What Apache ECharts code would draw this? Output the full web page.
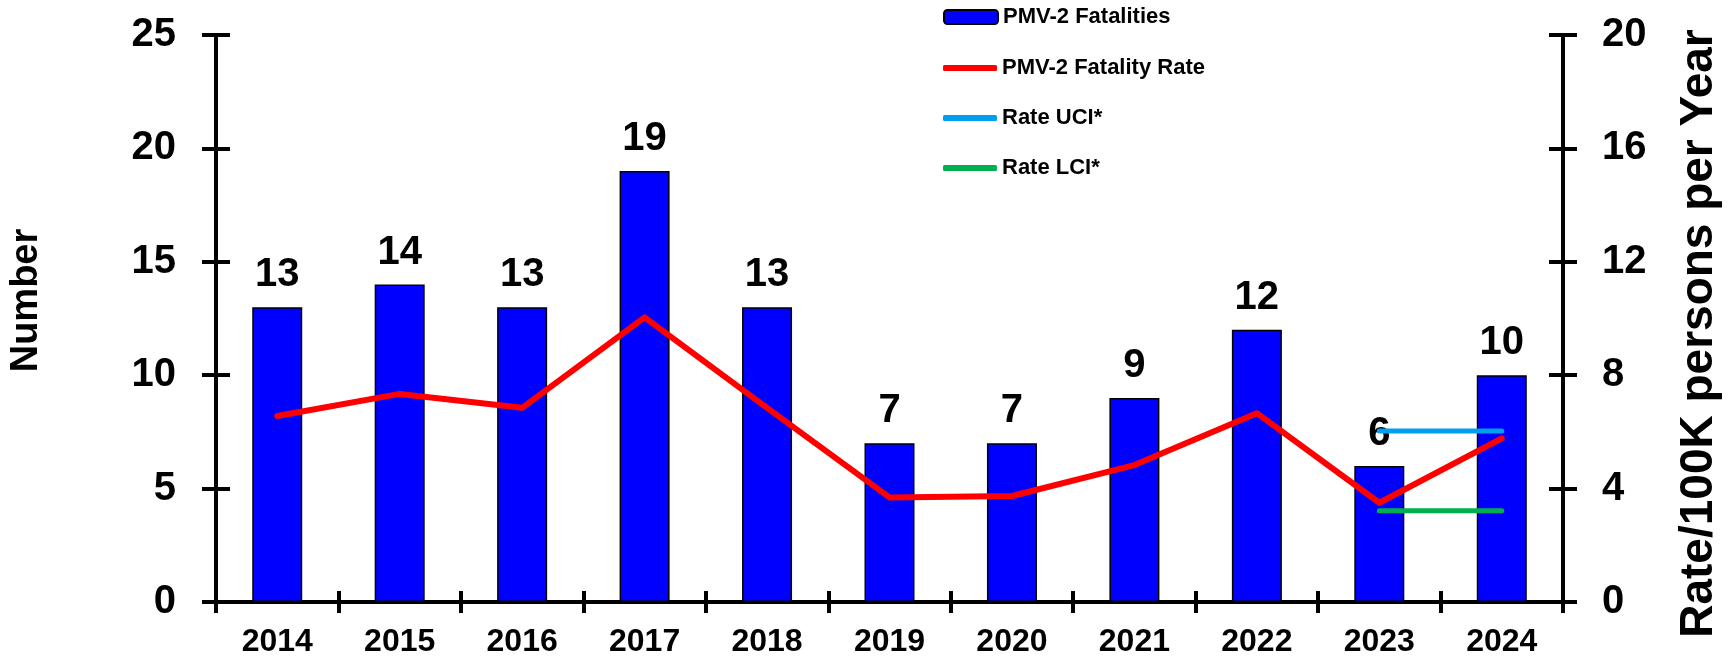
<!DOCTYPE html>
<html>
<head>
<meta charset="utf-8">
<title>PMV-2 Fatalities and Fatality Rate, 2014–2024</title>
<script src="https://cdn.jsdelivr.net/npm/echarts@6/dist/echarts.min.js"></script>
<style>
  html, body { margin: 0; padding: 0; background: #ffffff; }
  #chart { width: 1731px; height: 658px; }
</style>
</head>
<body>
<div id="chart"></div>
<script>
// Years on the category axis
const years = ['2014', '2015', '2016', '2017', '2018', '2019', '2020', '2021', '2022', '2023', '2024'];
// Number of PMV-2 fatalities per year (left axis)
const fatalities = [13, 14, 13, 19, 13, 7, 7, 9, 12, 6, 10];
// Fatality rate per 100K persons per year (right axis)
const fatalityRate = [6.56, 7.34, 6.85, 10.04, 6.85, 3.69, 3.74, 4.83, 6.66, 3.50, 5.77];
// Confidence interval bounds of the rate, shown for the last two years
const rateUCI = [null, null, null, null, null, null, null, null, null, 6.03, 6.03];
const rateLCI = [null, null, null, null, null, null, null, null, null, 3.22, 3.22];
// Axis scales
const leftAxis = { min: 0, max: 25, interval: 5 };
const rightAxis = { min: 0, max: 20, interval: 4 };

const FONT = '"Liberation Sans", Arial, Helvetica, sans-serif';
const AXIS_W = 4;

const chart = echarts.init(document.getElementById('chart'), null, { renderer: 'canvas' });

const baseY = (scale, pos) => ({
  type: 'value',
  position: pos,
  min: scale.min, max: scale.max, interval: scale.interval,
  splitLine: { show: false },
  axisLine: { show: true, lineStyle: { color: '#000', width: AXIS_W } },
  axisTick: { show: true, length: 14, lineStyle: { color: '#000', width: AXIS_W } }
});

const legendText = { fontFamily: FONT, fontSize: 22, fontWeight: 'bold', color: '#000' };

chart.setOption({
  animation: false,
  backgroundColor: '#ffffff',
  textStyle: { fontFamily: FONT },
  grid: { left: 213, right: 168, top: 35, bottom: 56, containLabel: false },
  legend: [
    {
      // bar swatch
      orient: 'vertical',
      left: 938,
      top: 1,
      itemWidth: 54,
      itemHeight: 14,
      selectedMode: false,
      textStyle: legendText,
      data: ['PMV-2 Fatalities']
    },
    {
      // thick line swatches for the rate series
      orient: 'vertical',
      left: 938,
      top: 52,
      itemWidth: 54,
      itemHeight: 6,
      itemGap: 28,
      icon: 'roundRect',
      selectedMode: false,
      textStyle: legendText,
      data: ['PMV-2 Fatality Rate', 'Rate UCI*', 'Rate LCI*']
    }
  ],
  xAxis: [
    {
      type: 'category',
      position: 'bottom',
      data: years,
      axisLine: { show: true, lineStyle: { color: '#000', width: AXIS_W } },
      axisTick: { show: true, length: 11, alignWithLabel: false, lineStyle: { color: '#000', width: AXIS_W } },
      axisLabel: { margin: 24, color: '#000', fontFamily: FONT, fontSize: 32, fontWeight: 'bold' }
    },
    {
      // inner half of the crossing tick marks on the category axis
      type: 'category',
      position: 'bottom',
      data: years,
      axisLine: { show: false },
      axisTick: { show: true, inside: true, length: 11, lineStyle: { color: '#000', width: AXIS_W } },
      axisLabel: { show: false }
    }
  ],
  yAxis: [
    Object.assign(baseY(leftAxis, 'left'), {
      name: 'Number',
      nameLocation: 'middle',
      nameGap: 170,
      nameRotate: 90,
      nameTextStyle: { fontFamily: FONT, fontSize: 38, fontWeight: 'bold', color: '#000', padding: [0, 0, 0, 36] },
      axisLabel: { margin: 40, color: '#000', fontFamily: FONT, fontSize: 40, fontWeight: 'bold' }
    }),
    Object.assign(baseY(rightAxis, 'right'), {
      name: 'Rate/100K persons per Year',
      nameLocation: 'middle',
      nameGap: 113,
      nameRotate: 90,
      nameTextStyle: { fontFamily: FONT, fontSize: 46, fontWeight: 'bold', color: '#000', padding: [0, 30, 0, 0] },
      axisLabel: { margin: 39, color: '#000', fontFamily: FONT, fontSize: 40, fontWeight: 'bold' }
    }),
    Object.assign(baseY(leftAxis, 'left'), {
      // inner half of the crossing ticks on the left axis
      axisTick: { show: true, inside: true, length: 14, lineStyle: { color: '#000', width: AXIS_W } },
      axisLabel: { show: false }
    }),
    Object.assign(baseY(rightAxis, 'right'), {
      // inner half of the crossing ticks on the right axis
      axisTick: { show: true, inside: true, length: 14, lineStyle: { color: '#000', width: AXIS_W } },
      axisLabel: { show: false }
    })
  ],
  series: [
    {
      name: 'PMV-2 Fatalities',
      type: 'bar',
      xAxisIndex: 0,
      yAxisIndex: 0,
      data: fatalities,
      barWidth: 50,
      itemStyle: { color: '#0000FF', borderColor: '#000', borderWidth: 1.5 },
      label: {
        show: true,
        position: 'top',
        distance: 12,
        color: '#000',
        fontFamily: FONT,
        fontSize: 40,
        fontWeight: 'bold'
      },
      z: 2
    },
    {
      name: 'PMV-2 Fatality Rate',
      type: 'line',
      xAxisIndex: 0,
      yAxisIndex: 1,
      data: fatalityRate,
      symbol: 'none',
      itemStyle: { color: '#FF0000' },
      lineStyle: { color: '#FF0000', width: 6, cap: 'round', join: 'round' },
      z: 5
    },
    {
      name: 'Rate UCI*',
      type: 'line',
      xAxisIndex: 0,
      yAxisIndex: 1,
      data: rateUCI,
      symbol: 'none',
      itemStyle: { color: '#00A0F0' },
      lineStyle: { color: '#00A0F0', width: 5, cap: 'round' },
      z: 4
    },
    {
      name: 'Rate LCI*',
      type: 'line',
      xAxisIndex: 0,
      yAxisIndex: 1,
      data: rateLCI,
      symbol: 'none',
      itemStyle: { color: '#00B050' },
      lineStyle: { color: '#00B050', width: 5, cap: 'round' },
      z: 4
    }
  ]
});
</script>
</body>
</html>
